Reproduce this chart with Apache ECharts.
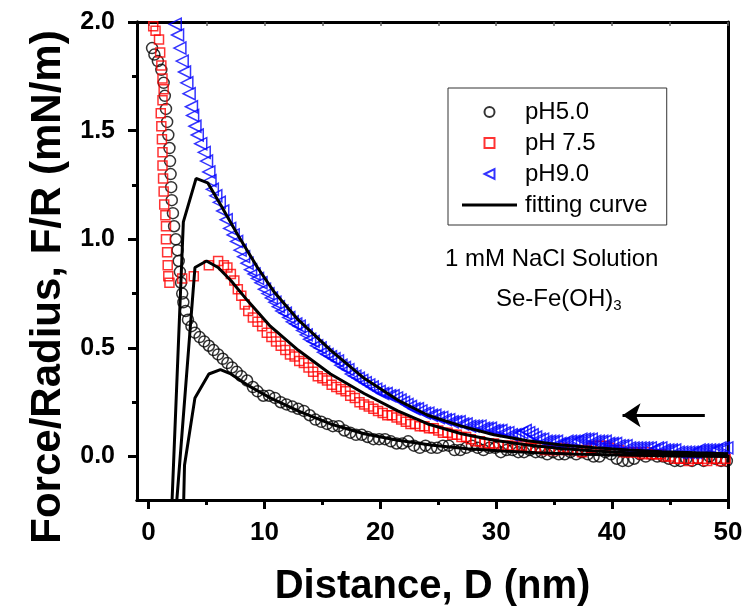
<!DOCTYPE html>
<html>
<head>
<meta charset="utf-8">
<script src="https://cdn.jsdelivr.net/npm/echarts@6/dist/echarts.min.js"></script>
<style>html,body{margin:0;padding:0;background:#fff;}#c{width:744px;height:611px;}</style>
</head>
<body>
<div id="c"></div>
<script>
// ---- data ----
const xTickLabels = [0, 10, 20, 30, 40, 50];
const xMinorTicks = [5, 15, 25, 35, 45];
const yTickLabels = [0, 0.5, 1.0, 1.5, 2.0];
const yMinorTicks = [0.25, 0.75, 1.25, 1.75];
const topTicks = [0, 5, 10, 15, 20, 25, 30, 35, 40, 45, 50];

const seriesNames = ['pH5.0', 'pH 7.5', 'pH9.0', 'fitting curve'];

const pH50 = [[0.3,1.88],[0.5,1.85],[0.8,1.82],[1.1,1.78],[1.3,1.72],[1.4,1.66],[1.5,1.60],[1.6,1.54],[1.7,1.48],[1.8,1.42],[1.85,1.36],[1.9,1.30],[1.95,1.24],[2.0,1.18],[2.1,1.12],[2.2,1.06],[2.35,1.00],[2.5,0.95],[2.6,0.90],[2.7,0.85],[2.8,0.80],[2.9,0.75],[3.0,0.71],[3.2,0.67],[3.4,0.63],[3.7,0.60],[4.0,0.57],[4.4,0.55],[4.8,0.53],[5.2,0.51],[5.6,0.49],[6.0,0.47],[6.4,0.45],[6.8,0.43],[7.2,0.41],[7.6,0.39],[8.0,0.37],[8.5,0.35],[9.0,0.32],[9.4,0.30],[9.9,0.28],[10.4,0.28],[10.9,0.27],[11.4,0.25],[11.9,0.24],[12.4,0.23],[12.9,0.22],[13.4,0.21],[13.9,0.19],[14.4,0.17],[14.9,0.16],[15.4,0.15],[15.9,0.14],[16.4,0.14],[16.9,0.12],[17.4,0.11],[17.9,0.10],[18.4,0.10],[18.9,0.09],[19.4,0.08],[19.9,0.08],[20.4,0.08],[20.9,0.07],[21.4,0.06],[21.9,0.06],[22.4,0.07],[22.9,0.05],[23.4,0.04],[23.9,0.05],[24.4,0.04],[24.9,0.04],[25.4,0.05],[25.9,0.05],[26.4,0.03],[26.9,0.03],[27.4,0.04],[27.9,0.05],[28.4,0.04],[28.9,0.03],[29.4,0.04],[29.9,0.04],[30.4,0.02],[30.9,0.03],[31.4,0.03],[31.9,0.02],[32.4,0.02],[32.9,0.03],[33.4,0.02],[33.9,0.02],[34.4,0.01],[34.9,0.02],[35.4,0.01],[35.9,0.01],[36.4,0.02],[36.9,0.01],[37.4,0.02],[37.9,0.01],[38.4,0.00],[38.9,0.00],[39.4,0.02],[39.9,0.01],[40.4,-0.01],[40.9,-0.02],[41.4,-0.02],[41.9,-0.01],[42.4,0.01],[42.9,0.00],[43.4,0.01],[43.9,0.00],[44.4,0.00],[44.9,-0.01],[45.4,-0.02],[45.9,-0.02],[46.4,-0.01],[46.9,-0.02],[47.4,-0.01],[47.9,-0.02],[48.4,0.00],[48.9,-0.01],[49.4,-0.02],[49.9,-0.02]];

const pH75 = [[0.4,1.98],[0.6,1.96],[0.9,1.92],[1.0,1.86],[1.1,1.80],[1.2,1.74],[1.3,1.69],[1.2,1.64],[1.05,1.58],[1.1,1.52],[1.15,1.46],[1.2,1.40],[1.2,1.34],[1.25,1.28],[1.3,1.22],[1.35,1.16],[1.45,1.11],[1.5,1.06],[1.5,1.00],[1.6,0.94],[1.65,0.88],[1.7,0.83],[1.8,0.80],[2.9,0.82],[3.9,0.83],[5.2,0.88],[6.0,0.90],[6.5,0.88],[6.8,0.87],[7.1,0.84],[7.4,0.81],[7.7,0.77],[8.0,0.74],[8.3,0.70],[8.6,0.67],[9.0,0.64],[9.4,0.62],[9.8,0.60],[10.2,0.57],[10.6,0.55],[11.0,0.53],[11.4,0.51],[11.8,0.49],[12.2,0.47],[12.6,0.46],[13.0,0.44],[13.4,0.43],[13.8,0.41],[14.2,0.39],[14.6,0.37],[15.0,0.36],[15.4,0.35],[15.8,0.33],[16.2,0.32],[16.6,0.31],[17.0,0.30],[17.4,0.28],[17.8,0.27],[18.2,0.25],[18.6,0.24],[19.0,0.23],[19.4,0.22],[19.8,0.21],[20.2,0.20],[20.6,0.19],[21.0,0.19],[21.4,0.18],[21.8,0.17],[22.2,0.16],[22.6,0.15],[23.0,0.15],[23.4,0.14],[23.8,0.14],[24.2,0.13],[24.6,0.13],[25.0,0.12],[25.4,0.11],[25.8,0.11],[26.2,0.10],[26.6,0.10],[27.0,0.09],[27.4,0.09],[27.8,0.08],[28.2,0.07],[28.6,0.07],[29.0,0.06],[29.4,0.06],[29.8,0.06],[30.2,0.05],[30.6,0.05],[31.0,0.05],[31.4,0.05],[31.8,0.04],[32.2,0.05],[32.6,0.04],[33.0,0.04],[33.4,0.04],[33.8,0.04],[34.2,0.03],[34.6,0.03],[35.0,0.03],[35.4,0.03],[35.8,0.04],[36.2,0.03],[36.6,0.03],[37.0,0.03],[37.4,0.02],[37.8,0.03],[38.2,0.04],[38.6,0.05],[39.0,0.05],[39.4,0.05],[39.8,0.04],[40.2,0.03],[40.6,0.03],[41.0,0.02],[41.4,0.02],[41.8,0.02],[42.2,0.02],[42.6,0.01],[43.0,0.02],[43.4,0.01],[43.8,0.01],[44.2,0.01],[44.6,0.00],[45.0,0.00],[45.4,-0.01],[45.8,-0.01],[46.2,-0.01],[46.6,-0.02],[47.0,-0.01],[47.4,-0.01],[47.8,-0.01],[48.2,-0.02],[48.6,-0.01],[49.0,-0.01],[49.4,-0.02],[49.8,-0.01]];

const pH90 = [[2.3,1.99],[2.5,1.94],[2.7,1.88],[2.9,1.82],[3.1,1.77],[3.3,1.72],[3.5,1.67],[3.7,1.61],[3.8,1.57],[4.0,1.52],[4.2,1.48],[4.5,1.44],[4.8,1.40],[5.0,1.36],[5.2,1.31],[5.3,1.27],[5.5,1.23],[5.8,1.20],[6.1,1.17],[6.4,1.13],[6.7,1.09],[7.0,1.05],[7.3,1.02],[7.6,0.99],[7.9,0.95],[8.2,0.92],[8.5,0.89],[8.8,0.86],[9.1,0.84],[9.4,0.82],[9.7,0.80],[10.0,0.77],[10.3,0.75],[10.6,0.73],[10.9,0.71],[11.2,0.69],[11.5,0.67],[11.8,0.66],[12.1,0.64],[12.4,0.62],[12.7,0.61],[13.0,0.60],[13.3,0.58],[13.6,0.56],[13.9,0.54],[14.2,0.53],[14.5,0.51],[14.8,0.50],[15.1,0.48],[15.4,0.47],[15.7,0.46],[16.0,0.45],[16.3,0.44],[16.6,0.42],[16.9,0.41],[17.2,0.40],[17.5,0.38],[17.8,0.37],[18.1,0.36],[18.4,0.35],[18.7,0.34],[19.0,0.33],[19.3,0.32],[19.6,0.31],[19.9,0.30],[20.2,0.29],[20.5,0.29],[20.8,0.28],[21.1,0.28],[21.4,0.27],[21.7,0.26],[22.0,0.25],[22.3,0.24],[22.6,0.23],[22.9,0.22],[23.2,0.22],[23.5,0.21],[23.8,0.20],[24.1,0.20],[24.4,0.19],[24.7,0.19],[25.0,0.18],[25.3,0.18],[25.6,0.17],[25.9,0.17],[26.2,0.16],[26.5,0.16],[26.8,0.16],[27.1,0.15],[27.4,0.15],[27.7,0.14],[28.0,0.14],[28.3,0.14],[28.6,0.14],[28.9,0.13],[29.2,0.13],[29.5,0.13],[29.8,0.12],[30.1,0.12],[30.4,0.12],[30.7,0.11],[31.0,0.11],[31.3,0.10],[31.6,0.10],[31.9,0.10],[32.2,0.11],[32.5,0.12],[32.8,0.11],[33.1,0.10],[33.4,0.09],[33.7,0.08],[34.0,0.08],[34.3,0.07],[34.6,0.07],[34.9,0.07],[35.2,0.07],[35.5,0.06],[35.8,0.06],[36.1,0.07],[36.4,0.07],[36.7,0.07],[37.0,0.07],[37.3,0.08],[37.6,0.08],[37.9,0.08],[38.2,0.08],[38.5,0.07],[38.8,0.07],[39.1,0.07],[39.4,0.07],[39.7,0.06],[40.0,0.06],[40.3,0.06],[40.6,0.05],[40.9,0.05],[41.2,0.05],[41.5,0.04],[41.8,0.04],[42.1,0.04],[42.4,0.04],[42.7,0.04],[43.0,0.04],[43.3,0.04],[43.6,0.03],[43.9,0.04],[44.2,0.04],[44.5,0.03],[44.8,0.03],[45.1,0.03],[45.4,0.03],[45.7,0.02],[46.0,0.02],[46.3,0.02],[46.6,0.02],[46.9,0.02],[47.2,0.02],[47.5,0.03],[47.8,0.03],[48.1,0.03],[48.4,0.03],[48.7,0.03],[49.0,0.03],[49.3,0.04],[49.6,0.04],[49.9,0.04]];

const fit50 = [[2.9,-0.5],[3.1,-0.04],[4.0,0.27],[5.2,0.38],[6.2,0.40],[7.1,0.38],[8.5,0.33],[10.5,0.27],[12.9,0.21],[15.7,0.15],[18.6,0.105],[21.5,0.075],[24.5,0.052],[27.5,0.036],[30.5,0.025],[33.5,0.018],[36.5,0.012],[40.5,0.007],[45.5,0.003],[50,0.0]];
const fit75 = [[2.0,-0.5],[4.0,0.87],[5.0,0.90],[6.0,0.87],[7.1,0.81],[8.5,0.72],[10.5,0.60],[12.9,0.49],[15.7,0.38],[18.6,0.29],[21.5,0.21],[24.1,0.15],[27.0,0.105],[29.8,0.075],[32.7,0.053],[35.6,0.037],[38.5,0.026],[41.4,0.018],[44.3,0.012],[47.2,0.008],[50,0.005]];
const fit90 = [[1.8,-0.5],[3.0,1.08],[4.1,1.28],[5.1,1.26],[6.2,1.16],[7.7,1.02],[9.4,0.87],[10.8,0.76],[12.9,0.63],[15.7,0.49],[18.6,0.36],[21.5,0.26],[24.1,0.19],[27.0,0.14],[29.8,0.10],[32.7,0.073],[35.6,0.053],[38.5,0.04],[41.4,0.03],[44.3,0.022],[47.2,0.017],[50,0.013]];

const arrowFrom = [48.0, 0.19];
const arrowTo = [40.9, 0.19];

// ---- chart ----
const chart = echarts.init(document.getElementById('c'), null, {renderer: 'canvas'});
const FONT = 'Liberation Sans, Arial, sans-serif';
const X_MIN = -1, X_MAX = 50, Y_MIN = -0.2, Y_MAX = 2.0;
const SQUARE = 'path://M0,0 L10,0 L10,10 L0,10 Z';
const LEFT_TRI = 'path://M0,5 L10,0 L10,10 Z';
const LINE_ICON = 'path://M0,0 L55,0 L55,3 L0,3 Z';
const AXIS_LINE = {show: true, onZero: false, lineStyle: {color: '#000', width: 3}};

const fitStyle = {color: '#000', width: 3};
function fitSeries(data, withLegend, extra) {
  return Object.assign({
    name: withLegend ? seriesNames[3] : undefined,
    type: 'line', data: data, xAxisIndex: 0, yAxisIndex: 0,
    symbol: 'none', showSymbol: false, smooth: false, clip: true,
    lineStyle: fitStyle, itemStyle: {color: '#000'}, z: 5
  }, extra || {});
}

const option = {
  animation: false,
  backgroundColor: '#fff',
  grid: {left: 137, right: 16, top: 22, bottom: 111, containLabel: false, outerBoundsMode: 'none'},
  legend: {
    orient: 'vertical', left: 448, top: 88,
    padding: [12, 19, 8, 14], itemGap: 7,
    itemWidth: 55, itemHeight: 10,
    borderColor: '#333', borderWidth: 1, backgroundColor: '#fff',
    symbolKeepAspect: true,
    selectedMode: false,
    textStyle: {fontFamily: FONT, fontSize: 24, color: '#000', padding: [0, 0, 0, 3]},
    data: [
      {name: seriesNames[0]},
      {name: seriesNames[1], icon: SQUARE},
      {name: seriesNames[2], icon: LEFT_TRI},
      {name: seriesNames[3], icon: LINE_ICON, itemStyle: {color: '#000', borderWidth: 0}}
    ]
  },
  xAxis: [
    {type: 'value', min: X_MIN, max: X_MAX, position: 'bottom',
     name: 'Distance, D (nm)', nameLocation: 'middle', nameGap: 67,
     nameTextStyle: {fontFamily: FONT, fontSize: 40, fontWeight: 'bold', color: '#000'},
     axisLine: AXIS_LINE,
     axisTick: {show: true, inside: false, length: 9, lineStyle: {color: '#000', width: 3}, customValues: xTickLabels},
     axisLabel: {show: true, margin: 20, customValues: xTickLabels, fontFamily: FONT, fontSize: 26, fontWeight: 'bold', color: '#000'},
     splitLine: {show: false}},
    {type: 'value', min: X_MIN, max: X_MAX, position: 'bottom',
     axisLine: AXIS_LINE,
     axisTick: {show: true, inside: false, length: 5, lineStyle: {color: '#000', width: 3}, customValues: xMinorTicks},
     axisLabel: {show: false}, splitLine: {show: false}},
    {type: 'value', min: X_MIN, max: X_MAX, position: 'top',
     axisLine: AXIS_LINE,
     axisTick: {show: true, inside: true, length: 4, lineStyle: {color: '#666', width: 1.5}, customValues: topTicks},
     axisLabel: {show: false}, splitLine: {show: false}}
  ],
  yAxis: [
    {type: 'value', min: Y_MIN, max: Y_MAX, position: 'left',
     name: 'Force/Radius, F/R (mN/m)', nameLocation: 'middle', nameGap: 67, nameRotate: 90,
     nameTextStyle: {fontFamily: FONT, fontSize: 42, fontWeight: 'bold', color: '#000', padding: [0, 52, 0, 0]},
     axisLine: AXIS_LINE,
     axisTick: {show: true, inside: false, length: 9, lineStyle: {color: '#000', width: 3}, customValues: yTickLabels},
     axisLabel: {show: true, margin: 22, customValues: yTickLabels, formatter: v => Number(v).toFixed(1), fontFamily: FONT, fontSize: 25, fontWeight: 'bold', color: '#000'},
     splitLine: {show: false}},
    {type: 'value', min: Y_MIN, max: Y_MAX, position: 'left',
     axisLine: AXIS_LINE,
     axisTick: {show: true, inside: false, length: 5, lineStyle: {color: '#000', width: 3}, customValues: yMinorTicks},
     axisLabel: {show: false}, splitLine: {show: false}},
    {type: 'value', min: Y_MIN, max: Y_MAX, position: 'right',
     axisLine: AXIS_LINE,
     axisTick: {show: false}, axisLabel: {show: false}, splitLine: {show: false}}
  ],
  graphic: [
    {type: 'text', left: 445, top: 247, z: 100,
     style: {text: '1 mM NaCl Solution', fontFamily: FONT, fontSize: 24, fill: '#000'}},
    {type: 'text', left: 496, top: 287, z: 100,
     style: {text: '{a|Se-Fe(OH)}{b|3}', fontFamily: FONT, fill: '#000',
       rich: {a: {fontFamily: FONT, fontSize: 24, fill: '#000', color: '#000'},
              b: {fontFamily: FONT, fontSize: 15, fill: '#000', color: '#000', padding: [14, 0, 0, 0]}}}}
  ],
  series: [
    {name: seriesNames[0], type: 'scatter', data: pH50, symbol: 'circle', symbolSize: 11,
     itemStyle: {color: 'rgba(0,0,0,0)', borderColor: '#000', borderWidth: 1.5}, z: 3},
    {name: seriesNames[1], type: 'scatter', data: pH75, symbol: SQUARE, symbolSize: 9,
     itemStyle: {color: 'rgba(0,0,0,0)', borderColor: '#ff0000', borderWidth: 1.5}, z: 3},
    {name: seriesNames[2], type: 'scatter', data: pH90, symbol: LEFT_TRI, symbolSize: 12,
     itemStyle: {color: 'rgba(0,0,0,0)', borderColor: '#0000ff', borderWidth: 1.5}, z: 3},
    fitSeries(fit90, true, {
      markLine: {silent: true, symbol: ['none', 'arrow'], symbolSize: 18,
        label: {show: false}, lineStyle: {color: '#000', width: 3, type: 'solid'},
        emphasis: {disabled: true},
        data: [[{coord: arrowFrom}, {coord: arrowTo}]]}
    }),
    fitSeries(fit75, false),
    fitSeries(fit50, false)
  ]
};
chart.setOption(option);
</script>
</body>
</html>
